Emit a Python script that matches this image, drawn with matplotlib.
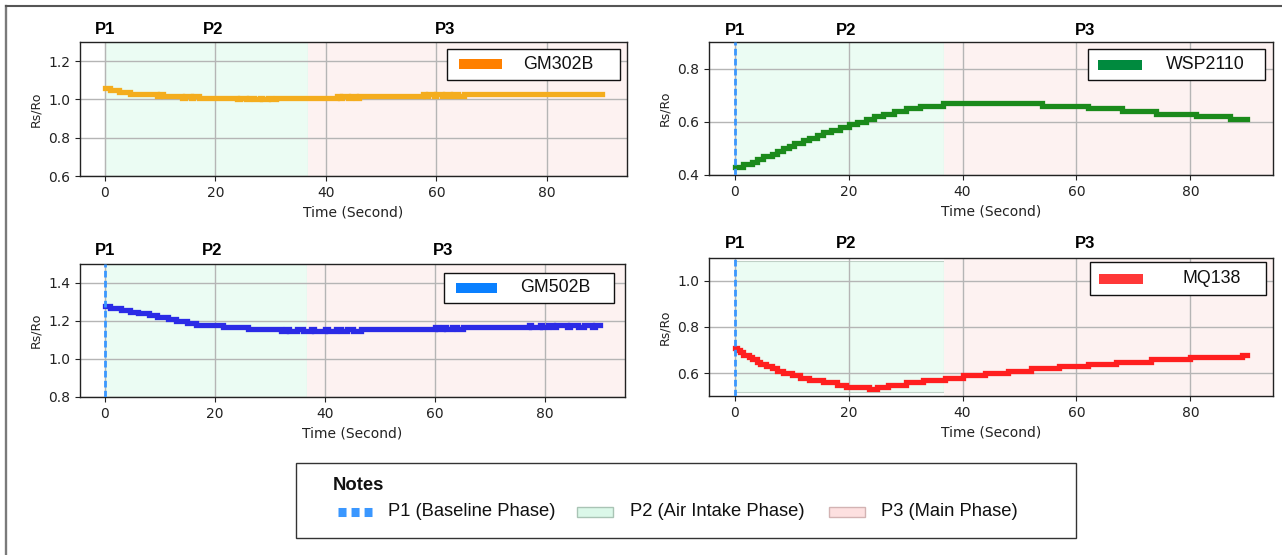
import matplotlib
matplotlib.use("Agg")
import matplotlib.pyplot as plt
import matplotlib.transforms as mtrans
from matplotlib.lines import Line2D
from matplotlib.patches import Rectangle

# ---------------- data ----------------
sensor_names = ["GM302B", "WSP2110", "GM502B", "MQ138"]

gm302b_t = [0, 1, 2.5, 4.5, 9.5, 10, 10.5, 14, 14.5, 15.5, 16, 17, 24, 24.5, 25.5, 26, 27, 28,
            28.5, 29.5, 30, 31, 42, 42.5, 43, 44, 44.5, 45.5, 46, 57.5, 58, 58.5, 59.5, 60, 61,
            61.5, 62.5, 63, 64, 65, 90]
gm302b_v = [1.06, 1.05, 1.04, 1.03, 1.02, 1.03, 1.02, 1.01, 1.02, 1.01, 1.02, 1.01, 1.00, 1.01,
            1.00, 1.01, 1.00, 1.01, 1.00, 1.01, 1.00, 1.01, 1.02, 1.01, 1.02, 1.01, 1.02, 1.01,
            1.02, 1.03, 1.02, 1.03, 1.02, 1.03, 1.02, 1.03, 1.02, 1.03, 1.02, 1.03, 1.03]

wsp2110_t = [0, 1.5, 3, 4, 5, 6.5, 7.5, 8.5, 9.5, 10.5, 12, 13, 14.5, 15.5, 17, 18.5, 20, 21.5,
             23, 24.5, 26, 28, 30, 32.5, 36.5, 54, 62, 68, 74, 81, 87, 90]
wsp2110_v = [0.43, 0.44, 0.45, 0.46, 0.47, 0.48, 0.49, 0.50, 0.51, 0.52, 0.53, 0.54, 0.55, 0.56,
             0.57, 0.58, 0.59, 0.60, 0.61, 0.62, 0.63, 0.64, 0.65, 0.66, 0.67, 0.66, 0.65, 0.64,
             0.63, 0.62, 0.61, 0.61]

gm502b_t = [0, 1, 3, 4.5, 6, 8, 9.5, 11.5, 13, 15, 16.5, 21.5, 26, 32, 33, 33.5, 35, 36, 37.5,
            38, 40, 40.5, 42, 43, 44, 45, 46.5, 60, 60.5, 61.5, 62, 63, 64, 65, 77, 77.5, 79,
            79.5, 80.5, 81.5, 82, 84, 84.5, 86, 87, 88.5, 89, 90]
gm502b_v = [1.28, 1.27, 1.26, 1.25, 1.24, 1.23, 1.22, 1.21, 1.20, 1.19, 1.18, 1.17, 1.16, 1.15,
            1.16, 1.15, 1.16, 1.15, 1.16, 1.15, 1.16, 1.15, 1.16, 1.15, 1.16, 1.15, 1.16, 1.17,
            1.16, 1.17, 1.16, 1.17, 1.16, 1.17, 1.18, 1.17, 1.18, 1.17, 1.18, 1.17, 1.18, 1.17,
            1.18, 1.17, 1.18, 1.17, 1.18, 1.18]

mq138_t = [0, 0.5, 1, 1.5, 2.5, 3, 4, 4.5, 5.5, 6.5, 7.5, 8.5, 10, 11.5, 13, 15.5, 18, 19.5,
           23.5, 25, 27, 30, 33, 37, 40, 44, 48, 52, 57, 62, 67, 73, 80, 89, 90]
mq138_v = [0.71, 0.70, 0.69, 0.68, 0.67, 0.66, 0.65, 0.64, 0.63, 0.62, 0.61, 0.60, 0.59, 0.58,
           0.57, 0.56, 0.55, 0.54, 0.53, 0.54, 0.55, 0.56, 0.57, 0.58, 0.59, 0.60, 0.61, 0.62,
           0.63, 0.64, 0.65, 0.66, 0.67, 0.68, 0.68]

phase_labels = ["P1", "P2", "P3"]
phase_label_x = [0, 19.5, 61.5]
p2_range = [0, 36.7]
p3_range = [36.7, 96]
x_ticks = [0, 20, 40, 60, 80]
y_ticks = [[0.6, 0.8, 1.0, 1.2], [0.4, 0.6, 0.8], [0.8, 1.0, 1.2, 1.4], [0.6, 0.8, 1.0]]
y_limits = [(0.6, 1.3), (0.4, 0.9), (0.8, 1.5), (0.5, 1.1)]
note_labels = ["P1 (Baseline Phase)", "P2 (Air Intake Phase)", "P3 (Main Phase)"]

# ---------------- styling / layout ----------------
W, H = 1282, 555
fig = plt.figure(figsize=(W / 100, H / 100), dpi=100)
plt.rcParams["font.family"] = ["DejaVu Sans"]


def fx(x):
    return x / W


def fy(y):
    return 1 - y / H


series = [(gm302b_t, gm302b_v), (wsp2110_t, wsp2110_v), (gm502b_t, gm502b_v), (mq138_t, mq138_v)]
line_colors = ["#f4ad1e", "#1b8a1b", "#2b2be6", "#ff1f1f"]
legend_colors = ["#ff8000", "#008a3e", "#0a80ff", "#ff3838"]
axes_px = [(80, 42, 627, 176), (709, 42, 1273, 175), (80, 264, 625, 397), (709, 258, 1273, 396)]
plabel_y = [30, 30.5, 250.5, 243.5]
show_p1_line = [False, True, True, True]
green_ylim = [(0, 1), (0, 1), (0, 1), (0.027, 0.975)]
# legend boxes: (left, top, right, bottom, handle_l, handle_r, text_x)
leg_px = [(447, 49, 620, 79.5, 459, 502, 523),
          (1088, 49, 1265, 80, 1098, 1142, 1166),
          (443.5, 272.7, 614, 302.7, 456, 497, 520),
          (1090, 262.3, 1266, 295, 1099, 1143, 1182)]

GREEN = "#ebfcf3"
PINK = "#fdf2f1"
BLUE = "#3a97ff"

for i in range(4):
    l, t, r, b = axes_px[i]
    ax = fig.add_axes([fx(l), fy(b), (r - l) / W, (b - t) / H])
    ax.axvspan(p2_range[0], p2_range[1], ymin=green_ylim[i][0], ymax=green_ylim[i][1],
               facecolor=GREEN, edgecolor="#bfd0c6", lw=0.8, zorder=0.5)
    ax.axvspan(p3_range[0], p3_range[1], facecolor=PINK, edgecolor="none", zorder=0.5)
    if show_p1_line[i]:
        ax.axvline(0, color=BLUE, lw=2.0, linestyle=(0, (2.4, 1.2)), zorder=3)
    tt, vv = series[i]
    ax.plot(tt, vv, drawstyle="steps-post", color=line_colors[i], lw=3.8,
            solid_joinstyle="miter", zorder=2)
    ax.set_xlim(-4.5, 94.5)
    ax.set_ylim(*y_limits[i])
    ax.set_xticks(x_ticks)
    ax.set_yticks(y_ticks[i])
    ax.set_yticklabels(["%.1f" % v for v in y_ticks[i]])
    ax.grid(True, color="#b5b5b5", lw=1.0)
    ax.tick_params(labelsize=10, colors="#222222", length=3.5)
    for s in ax.spines.values():
        s.set_color("#222222")
        s.set_linewidth(1.0)
    ax.set_xlabel("Time (Second)", fontsize=10, color="#222222", labelpad=4)
    ax.set_ylabel("Rs/Ro", fontsize=9, color="#222222")

    tr = mtrans.blended_transform_factory(ax.transData, fig.transFigure)
    for lab, xx in zip(phase_labels, phase_label_x):
        ax.text(xx, fy(plabel_y[i]), lab, transform=tr, ha="center", va="center",
                fontsize=12, fontweight="bold", family="Liberation Sans", clip_on=False)

    # legend box
    bl, bt, br, bb, hl, hr, tx = leg_px[i]
    fig.add_artist(Rectangle((fx(bl), fy(bb)), (br - bl) / W, (bb - bt) / H,
                             transform=fig.transFigure, facecolor="white",
                             edgecolor="#111111", lw=1.0, zorder=5))
    yc = (bt + bb) / 2
    fig.add_artist(Line2D([fx(hl), fx(hr)], [fy(yc), fy(yc)], transform=fig.transFigure,
                          color=legend_colors[i], lw=7.2, solid_capstyle="butt", zorder=6))
    fig.text(fx(tx), fy(yc), sensor_names[i], ha="left", va="center", fontsize=12.8,
             family="Liberation Sans", color="#111111", zorder=6)

# ---------------- Notes box ----------------
fig.add_artist(Rectangle((fx(296), fy(538)), (1076 - 296) / W, (538 - 463) / H,
                         transform=fig.transFigure, facecolor="white",
                         edgecolor="#333333", lw=1.0))
fig.text(fx(333), fy(485), "Notes", ha="left", va="center", fontsize=13.3, fontweight="bold",
         family="Liberation Sans", color="#111111")
row_y = 511.5
fig.add_artist(Line2D([fx(338), fx(372)], [fy(row_y), fy(row_y)], transform=fig.transFigure,
                      color=BLUE, lw=6.5, solid_capstyle="butt", dash_capstyle="butt",
                      linestyle=(0, (8 / 9, 5 / 9))))
fig.text(fx(388), fy(row_y), note_labels[0], ha="left", va="center", fontsize=13.2,
         family="Liberation Sans", color="#111111")
fig.add_artist(Rectangle((fx(577), fy(row_y + 5)), 36 / W, 10 / H, transform=fig.transFigure,
                         facecolor="#dbf8e9", edgecolor="#a9c4b5", lw=1.0))
fig.text(fx(630), fy(row_y), note_labels[1], ha="left", va="center", fontsize=13.2,
         family="Liberation Sans", color="#111111")
fig.add_artist(Rectangle((fx(829), fy(row_y + 5)), 36 / W, 10 / H, transform=fig.transFigure,
                         facecolor="#fde0e0", edgecolor="#d3b3b3", lw=1.0))
fig.text(fx(881), fy(row_y), note_labels[2], ha="left", va="center", fontsize=13.2,
         family="Liberation Sans", color="#111111")

# ---------------- outer frame lines ----------------
fig.add_artist(Line2D([fx(6), fx(6)], [fy(6), fy(555)], transform=fig.transFigure,
                      color="#7a7a7a", lw=1.7))
fig.add_artist(Line2D([fx(6), fx(1282)], [fy(6), fy(6)], transform=fig.transFigure,
                      color="#555555", lw=1.5))

fig.savefig("out.png", dpi=100)
